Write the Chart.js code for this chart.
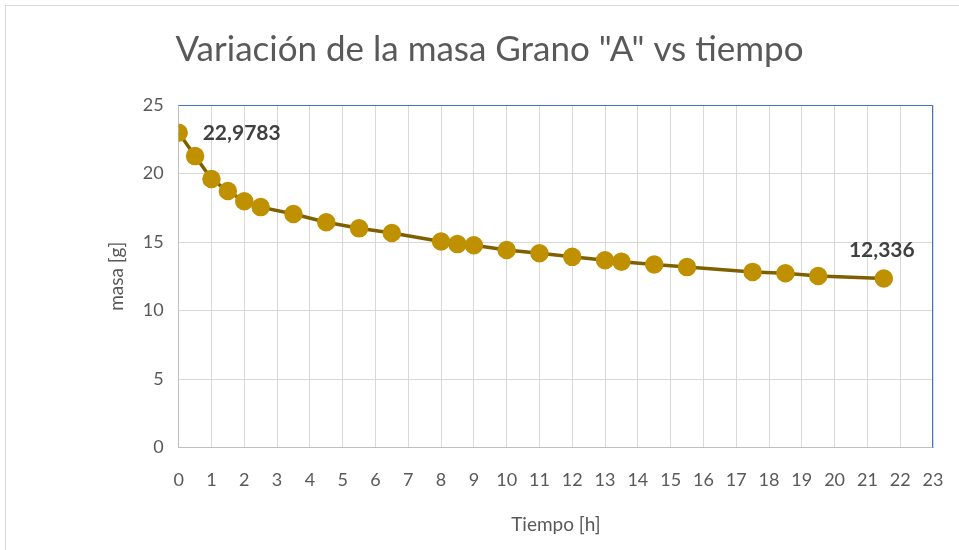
<!DOCTYPE html>
<html>
<head>
<meta charset="utf-8">
<script src="https://cdn.jsdelivr.net/npm/chart.js@4"></script>
<style>
  html, body { margin: 0; padding: 0; background: #fff; }
  #edge { position: absolute; left: 5px; top: 5px; width: 960px; height: 560px;
          border-left: 1px solid #d9d9d9; border-top: 1px solid #d9d9d9; }
  canvas { position: absolute; left: 0; top: 0; }
</style>
</head>
<body>
<div id="edge"></div>
<canvas id="chart" width="959" height="550"></canvas>
<script>
// tiempo [h]
const tiempo = [0, 0.5, 1, 1.5, 2, 2.5, 3.5, 4.5, 5.5, 6.5, 8, 8.5, 9, 10, 11, 12, 13, 13.5, 14.5, 15.5, 17.5, 18.5, 19.5, 21.5];
// masa [g]
const masa = [22.9783, 21.27, 19.6, 18.72, 17.98, 17.55, 17.05, 16.45, 16.0, 15.66, 15.04, 14.85, 14.77, 14.42, 14.18, 13.92, 13.67, 13.57, 13.36, 13.17, 12.82, 12.72, 12.52, 12.336];

// puntos con etiqueta
const labeled = { 0: "22,9783", 23: "12,336" };

const TITLE = 'Variación de la masa Grano "A" vs tiempo';
const FONT = "Lato, 'Open Sans', sans-serif";
const GREY = "#595959";

const frame = {
  id: "frame",
  afterDatasetsDraw(chart) {
    const { ctx, chartArea: a } = chart;
    ctx.save();
    ctx.strokeStyle = "#4472C4";
    ctx.lineWidth = 1;
    ctx.beginPath();
    ctx.moveTo(a.left, a.top + 0.5);
    ctx.lineTo(a.right - 0.5, a.top + 0.5);
    ctx.lineTo(a.right - 0.5, a.bottom);
    ctx.stroke();

    // titulo
    ctx.fillStyle = GREY;
    ctx.font = "35px " + FONT;
    ctx.textAlign = "center";
    ctx.textBaseline = "middle";
    ctx.fillText(TITLE, chart.width / 2 + 10, 50);

    // etiquetas de datos
    const meta = chart.getDatasetMeta(0);
    ctx.fillStyle = "#404040";
    ctx.font = "bold 21px " + FONT;
    Object.keys(labeled).forEach(k => {
      const p = meta.data[k];
      if (Number(k) === 0) {
        ctx.textAlign = "left";
        ctx.fillText(labeled[k], p.x + 24, p.y + 1);
      } else {
        ctx.textAlign = "center";
        ctx.fillText(labeled[k], p.x - 2, p.y - 28);
      }
    });
    ctx.restore();
  }
};

new Chart(document.getElementById("chart"), {
  type: "line",
  data: {
    datasets: [{
      data: tiempo.map((t, i) => ({ x: t, y: masa[i] })),
      borderColor: "#7F6000",
      borderWidth: 3.5,
      backgroundColor: "#BF9000",
      pointBackgroundColor: "#BF9000",
      pointBorderColor: "#BF9000",
      pointRadius: 7.5,
      tension: 0
    }]
  },
  options: {
    responsive: false,
    animation: false,
    layout: { autoPadding: false, padding: { left: 101, right: 26, top: 105, bottom: 10 } },
    plugins: {
      legend: { display: false },
      tooltip: { enabled: false },
      title: { display: false }
    },
    scales: {
      x: {
        type: "linear",
        min: 0, max: 23,
        afterFit: s => { s.paddingRight = 0; s.paddingLeft = 0; },
        ticks: { stepSize: 1, color: GREY, font: { family: FONT, size: 18 }, padding: 22 },
        grid: { color: "#d9d9d9", drawTicks: false },
        border: { color: "#bfbfbf" },
        title: { display: true, text: "Tiempo [h]", color: GREY, font: { family: FONT, size: 19 }, padding: { top: 0 } }
      },
      y: {
        min: 0, max: 25,
        ticks: { stepSize: 5, color: GREY, font: { family: FONT, size: 18 }, padding: 15 },
        grid: { color: "#d9d9d9", drawTicks: false },
        border: { color: "#bfbfbf" },
        title: { display: true, text: "masa [g]", color: GREY, font: { family: FONT, size: 19 }, padding: { bottom: 0 } }
      }
    }
  },
  plugins: [frame]
});
</script>
</body>
</html>
